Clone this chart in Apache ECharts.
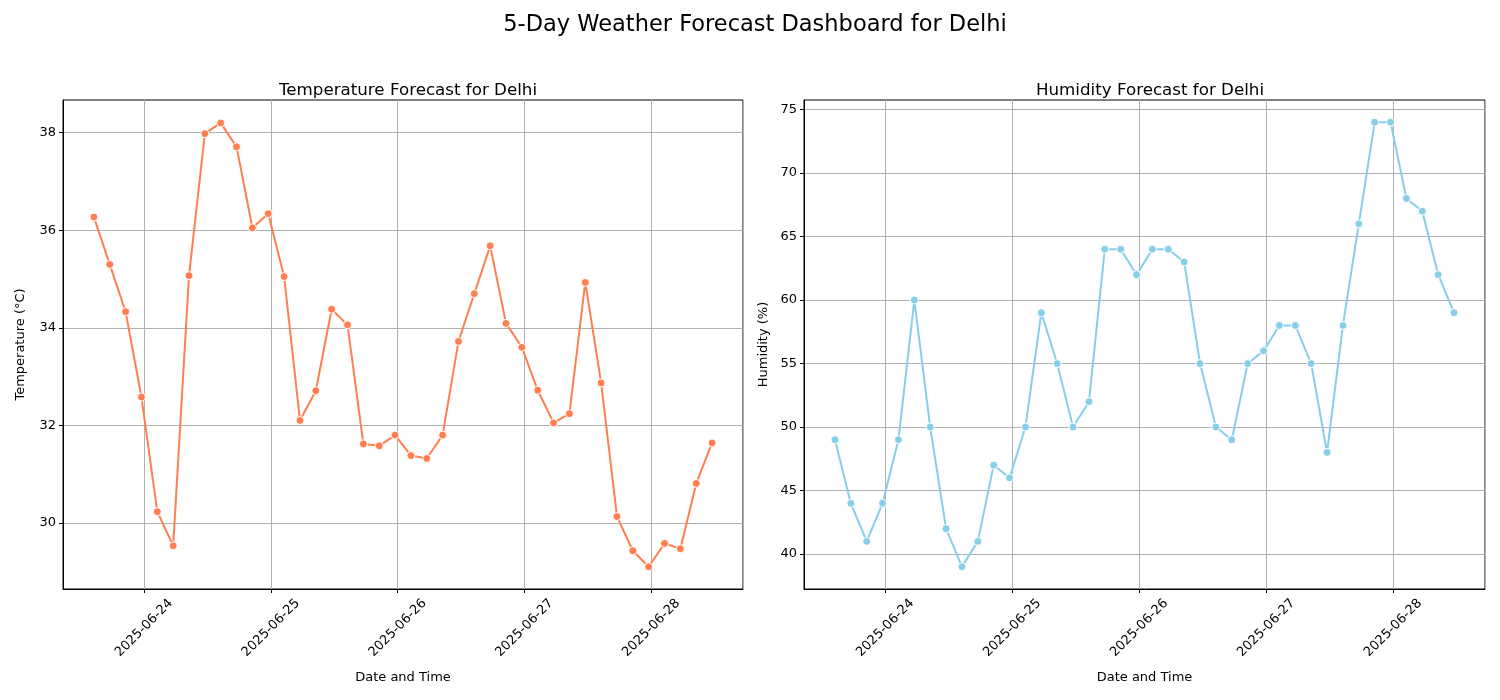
<!DOCTYPE html>
<html>
<head>
<meta charset="utf-8">
<script src="https://cdn.jsdelivr.net/npm/echarts@6/dist/echarts.min.js"></script>
<style>
  html, body { margin: 0; padding: 0; background: #fff; }
  #chart { width: 1500px; height: 700px; }
</style>
</head>
<body>
<div id="chart"></div>
<script>
// forecast times (IST, every 3 h)
const times = [
  "2025-06-23 14:30", "2025-06-23 17:30", "2025-06-23 20:30", "2025-06-23 23:30",
  "2025-06-24 02:30", "2025-06-24 05:30", "2025-06-24 08:30", "2025-06-24 11:30",
  "2025-06-24 14:30", "2025-06-24 17:30", "2025-06-24 20:30", "2025-06-24 23:30",
  "2025-06-25 02:30", "2025-06-25 05:30", "2025-06-25 08:30", "2025-06-25 11:30",
  "2025-06-25 14:30", "2025-06-25 17:30", "2025-06-25 20:30", "2025-06-25 23:30",
  "2025-06-26 02:30", "2025-06-26 05:30", "2025-06-26 08:30", "2025-06-26 11:30",
  "2025-06-26 14:30", "2025-06-26 17:30", "2025-06-26 20:30", "2025-06-26 23:30",
  "2025-06-27 02:30", "2025-06-27 05:30", "2025-06-27 08:30", "2025-06-27 11:30",
  "2025-06-27 14:30", "2025-06-27 17:30", "2025-06-27 20:30", "2025-06-27 23:30",
  "2025-06-28 02:30", "2025-06-28 05:30", "2025-06-28 08:30", "2025-06-28 11:30"
];
const temperature = [
  36.27, 35.30, 34.33, 32.58, 30.23, 29.53, 35.07, 37.98,
  38.20, 37.71, 36.05, 36.34, 35.05, 32.10, 32.71, 34.38,
  34.06, 31.62, 31.58, 31.80, 31.38, 31.32, 31.80, 33.72,
  34.70, 35.68, 34.09, 33.60, 32.72, 32.05, 32.24, 34.93,
  32.87, 30.13, 29.43, 29.10, 29.58, 29.47, 30.81, 31.64
];
const humidity = [
  49, 44, 41, 44, 49, 60, 50, 42,
  39, 41, 47, 46, 50, 59, 55, 50,
  52, 64, 64, 62, 64, 64, 63, 55,
  50, 49, 55, 56, 58, 58, 55, 48,
  58, 66, 74, 74, 68, 67, 62, 59
];
const tempTicks = [30, 32, 34, 36, 38];
const humTicks = [40, 45, 50, 55, 60, 65, 70, 75];

const toTs = s => {
  const [d, t] = s.split(" ");
  const [y, m, dd] = d.split("-").map(Number);
  const [h, mi] = t.split(":").map(Number);
  return new Date(y, m - 1, dd, h, mi).getTime();
};
const pad = n => String(n).padStart(2, "0");
const fmtDay = v => {
  const d = new Date(v);
  return `${d.getFullYear()}-${pad(d.getMonth() + 1)}-${pad(d.getDate())}`;
};

const xMin = toTs("2025-06-23 08:39");
const xMax = toTs("2025-06-28 17:21");
const DAY = 86400000;
const font = "DejaVu Sans";

const chartDom = echarts.init(document.getElementById("chart"));

const xAxisOf = gridIndex => ({
  type: "time",
  gridIndex,
  min: xMin,
  max: xMax,
  minInterval: DAY,
  maxInterval: DAY,
  name: "Date and Time",
  nameLocation: "middle",
  nameGap: 82,
  nameTextStyle: { color: "#000", fontSize: 13, fontFamily: font },
  axisLine: { show: true, lineStyle: { color: "#000", width: 1 } },
  axisTick: { show: true, length: 4, lineStyle: { color: "#000" } },
  axisLabel: {
    showMinLabel: false,
    showMaxLabel: false,
    hideOverlap: false,
    rotate: 45,
    align: "center",
    verticalAlign: "middle",
    margin: 39,
    color: "#000",
    fontSize: 13,
    fontFamily: font,
    formatter: v => fmtDay(v)
  },
  splitLine: { show: true, lineStyle: { color: "#b0b0b0", width: 1 } }
});

const yAxisOf = (gridIndex, min, max, ticks, name, gap) => ({
  type: "value",
  gridIndex,
  min,
  max,
  name,
  nameLocation: "middle",
  nameRotate: 90,
  nameGap: gap,
  nameTextStyle: { color: "#000", fontSize: 13, fontFamily: font },
  axisLine: { show: true, lineStyle: { color: "#000", width: 1 } },
  axisTick: { show: true, length: 4, lineStyle: { color: "#000" }, customValues: ticks },
  axisLabel: { customValues: ticks, color: "#000", fontSize: 13, fontFamily: font, margin: 7 },
  splitLine: { show: true, lineStyle: { color: "#b0b0b0", width: 1 } }
});

chartDom.setOption({
  backgroundColor: "#fff",
  animation: false,
  title: [
    {
      text: "5-Day Weather Forecast Dashboard for Delhi",
      left: 750, top: 9, textAlign: "center",
      textStyle: { fontFamily: font, fontSize: 22.5, fontWeight: "normal", color: "#000" }
    },
    {
      text: "Temperature Forecast for Delhi",
      left: 403, top: 77, textAlign: "center",
      textStyle: { fontFamily: font, fontSize: 16.7, fontWeight: "normal", color: "#000" }
    },
    {
      text: "Humidity Forecast for Delhi",
      left: 1145, top: 77, textAlign: "center",
      textStyle: { fontFamily: font, fontSize: 16.7, fontWeight: "normal", color: "#000" }
    }
  ],
  grid: [
    { left: 63, top: 100, width: 680, height: 489, show: true, borderColor: "#000", borderWidth: 1, backgroundColor: "transparent" },
    { left: 804, top: 100, width: 681, height: 489, show: true, borderColor: "#000", borderWidth: 1, backgroundColor: "transparent" }
  ],
  xAxis: [xAxisOf(0), xAxisOf(1)],
  yAxis: [
    yAxisOf(0, 28.645, 38.67, tempTicks, "Temperature (°C)", 36),
    yAxisOf(1, 37.25, 75.75, humTicks, "Humidity (%)", 34)
  ],
  series: [
    {
      name: "Temperature",
      type: "line",
      xAxisIndex: 0,
      yAxisIndex: 0,
      data: times.map((t, i) => [toTs(t), temperature[i]]),
      symbol: "circle",
      symbolSize: 8,
      showSymbol: true,
      lineStyle: { color: "#FF7F50", width: 2 },
      itemStyle: { color: "#FF7F50", borderColor: "#fff", borderWidth: 1 }
    },
    {
      name: "Humidity",
      type: "line",
      xAxisIndex: 1,
      yAxisIndex: 1,
      data: times.map((t, i) => [toTs(t), humidity[i]]),
      symbol: "circle",
      symbolSize: 8,
      showSymbol: true,
      lineStyle: { color: "#87CEEB", width: 2 },
      itemStyle: { color: "#87CEEB", borderColor: "#fff", borderWidth: 1 }
    }
  ]
});
</script>
</body>
</html>
